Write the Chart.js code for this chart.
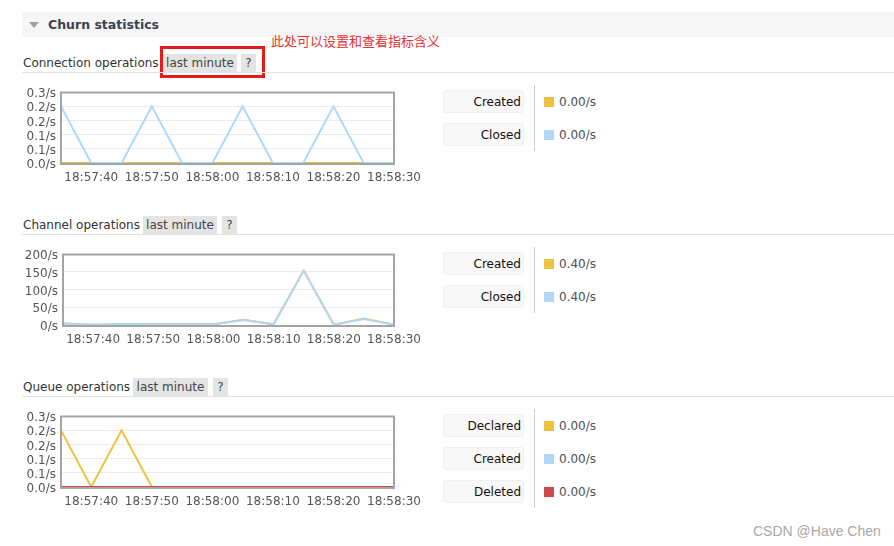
<!DOCTYPE html>
<html><head><meta charset="utf-8">
<script src="https://cdn.jsdelivr.net/npm/chart.js@4/dist/chart.umd.min.js"></script>
<style>
body{margin:0;width:894px;height:546px;background:#fff;font-family:"DejaVu Sans",Verdana,sans-serif;font-size:12px;color:#333;position:relative;overflow:hidden}
.a{position:absolute;white-space:nowrap}
.hdr{left:22px;top:12px;width:872px;height:25px;background:#f6f6f6}
.tri{left:29px;top:22px;width:0;height:0;border-left:5.5px solid transparent;border-right:5.5px solid transparent;border-top:6px solid #a0a0a0}
.title{left:48px;top:17px;font-weight:bold;color:#3a4350;font-size:12.5px}
.sec{left:23px;color:#333;line-height:14px}
.pill{background:#e4e4e4;color:#444;height:18px;line-height:18px;text-align:center}
.rule{left:22px;width:872px;height:1px;background:#e2e2e2}
.lbox{left:443px;width:77px;height:21px;line-height:23px;background:#f8f8f8;border:1px solid #f0f0f0;border-radius:3px;text-align:right;padding-right:2px;color:#111}
.vsep{left:534px;width:1px;background:#cccccc}
.sq{left:544px;width:10px;height:10px}
.val{left:559px;color:#4a4f5a;line-height:14px}
canvas{position:absolute;left:0}
</style></head><body>
<div class="a hdr"></div>
<div class="a tri"></div>
<div class="a title">Churn statistics</div>

<div class="a" style="left:271px;top:33px;font-family:'Noto Sans CJK SC';font-size:13px;color:#e43030;line-height:16px">此处可以设置和查看指标含义</div>
<div class="a" style="left:160px;top:46px;width:99px;height:26px;border:3px solid #e61c1c"></div>

<div class="a sec" style="top:56px">Connection operations</div>
<div class="a pill" style="left:163px;top:54px;width:74px">last minute</div>
<div class="a pill" style="left:241px;top:54px;width:15px">?</div>
<div class="a rule" style="top:72px"></div>

<div class="a sec" style="top:218px">Channel operations</div>
<div class="a pill" style="left:143px;top:216px;width:74px">last minute</div>
<div class="a pill" style="left:222px;top:216px;width:15px">?</div>
<div class="a rule" style="top:234px"></div>

<div class="a sec" style="top:380px">Queue operations</div>
<div class="a pill" style="left:133px;top:378px;width:75px">last minute</div>
<div class="a pill" style="left:213px;top:378px;width:15px">?</div>
<div class="a rule" style="top:396px"></div>

<canvas id="c1" width="440" height="110" style="top:80px"></canvas>
<canvas id="c2" width="440" height="110" style="top:242px"></canvas>
<canvas id="c3" width="440" height="110" style="top:404px"></canvas>

<div id="legends"></div>

<div class="a" style="left:753px;top:523px;font-family:'Liberation Sans',Arial,sans-serif;font-size:14px;color:#a8a8a8">CSDN @Have Chen</div>

<script>
// ---- data ----
const times = ["18:57:35","18:57:40","18:57:45","18:57:50","18:57:55","18:58:00","18:58:05","18:58:10","18:58:15","18:58:20","18:58:25","18:58:30"];
const connCreated = [0,0,0,0,0,0,0,0,0,0,0,0];
const connClosed  = [0.2,0,0,0.2,0,0,0.2,0,0,0.2,0,0];
const chanCreated = [4,1,3,2,2,2,15,2,154,1,18,1];
const chanClosed  = [4,1,3,2,2,2,14,2,153,1,17,1];
const queueDeclared = [0.2,0,0.2,0,0,0,0,0,0,0,0,0];
const queueCreated  = [0,0,0,0,0,0,0,0,0,0,0,0];
const queueDeleted  = [0,0,0,0,0,0,0,0,0,0,0,0];
const rateTickLabels = ["0.0/s","0.1/s","0.1/s","0.2/s","0.2/s","0.3/s"];
const chanTickLabels = ["0/s","50/s","100/s","150/s","200/s"];
const connLegend  = [["Created","0.00/s"],["Closed","0.00/s"]];
const chanLegend  = [["Created","0.40/s"],["Closed","0.40/s"]];
const queueLegend = [["Declared","0.00/s"],["Created","0.00/s"],["Deleted","0.00/s"]];

const YELLOW="#edc240", BLUE="#afd8f8", RED="#cb4b4b";

const frame = {id:'frame', afterDatasetsDraw(c){
  const a=c.chartArea, x=c.ctx; x.save(); x.strokeStyle='#a4a4a4'; x.lineWidth=2;
  x.strokeRect(Math.round(a.left), Math.round(a.top)+0.5, Math.round(a.right-a.left), Math.round(a.bottom-a.top)+0.5); x.restore();
}};

function makeChart(id, yWidth, yMax, yStep, yLabels, datasets){
  new Chart(document.getElementById(id), {
    type:'line',
    data:{labels:times, datasets:datasets.map(d=>({label:d[0], data:d[1], borderColor:d[2], backgroundColor:d[2], order:d[3], borderWidth:2, pointRadius:0, tension:0, fill:false}))},
    options:{
      responsive:false, animation:false, devicePixelRatio:1,
      layout:{padding:{top:12,right:46,bottom:7,left:0}},
      plugins:{legend:{display:false}, tooltip:{enabled:false}},
      scales:{
        x:{type:'category', offset:false, grid:{display:false, drawTicks:false}, border:{display:false},
           ticks:{autoSkip:false, maxRotation:0, minRotation:0, padding:8, color:'#555', font:{family:'DejaVu Sans', size:12},
                  callback:(v,i)=> i%2===1 ? times[i] : ''},
           afterFit:s=>{s.height=20}},
        y:{min:0, max:yMax, grid:{color:'#ececec', drawTicks:false}, border:{display:false},
           ticks:{autoSkip:false, padding:5, labelOffset:2, color:'#555', font:{family:'DejaVu Sans', size:12},
                  callback:(v,i)=> yLabels[i]},
           afterBuildTicks:s=>{ s.ticks = yLabels.map((_,i)=>({value:i*yStep})); },
           afterFit:s=>{s.width=yWidth}}
      }
    },
    plugins:[frame]
  });
}

makeChart('c1', 61, 0.25, 0.05, rateTickLabels, [["Created",connCreated,YELLOW,1],["Closed",connClosed,BLUE,0]]);
makeChart('c2', 63, 200, 50, chanTickLabels, [["Created",chanCreated,YELLOW,1],["Closed",chanClosed,BLUE,0]]);
makeChart('c3', 61, 0.25, 0.05, rateTickLabels, [["Declared",queueDeclared,YELLOW,2],["Created",queueCreated,BLUE,1],["Deleted",queueDeleted,RED,0]]);

function legend(items, colors, top){
  const L=document.getElementById('legends');
  const n=items.length;
  const sep=document.createElement('div'); sep.className='a vsep';
  sep.style.top=(top-5)+'px'; sep.style.height=(n*33)+'px'; L.appendChild(sep);
  items.forEach((it,i)=>{
    const y=top+i*33;
    const b=document.createElement('div'); b.className='a lbox'; b.style.top=y+'px'; b.textContent=it[0]; L.appendChild(b);
    const s=document.createElement('div'); s.className='a sq'; s.style.top=(y+7)+'px'; s.style.background=colors[i]; L.appendChild(s);
    const v=document.createElement('div'); v.className='a val'; v.style.top=(y+5)+'px'; v.textContent=it[1]; L.appendChild(v);
  });
}
legend(connLegend,[YELLOW,BLUE],90);
legend(chanLegend,[YELLOW,BLUE],252);
legend(queueLegend,[YELLOW,BLUE,RED],414);
</script>
</body></html>
